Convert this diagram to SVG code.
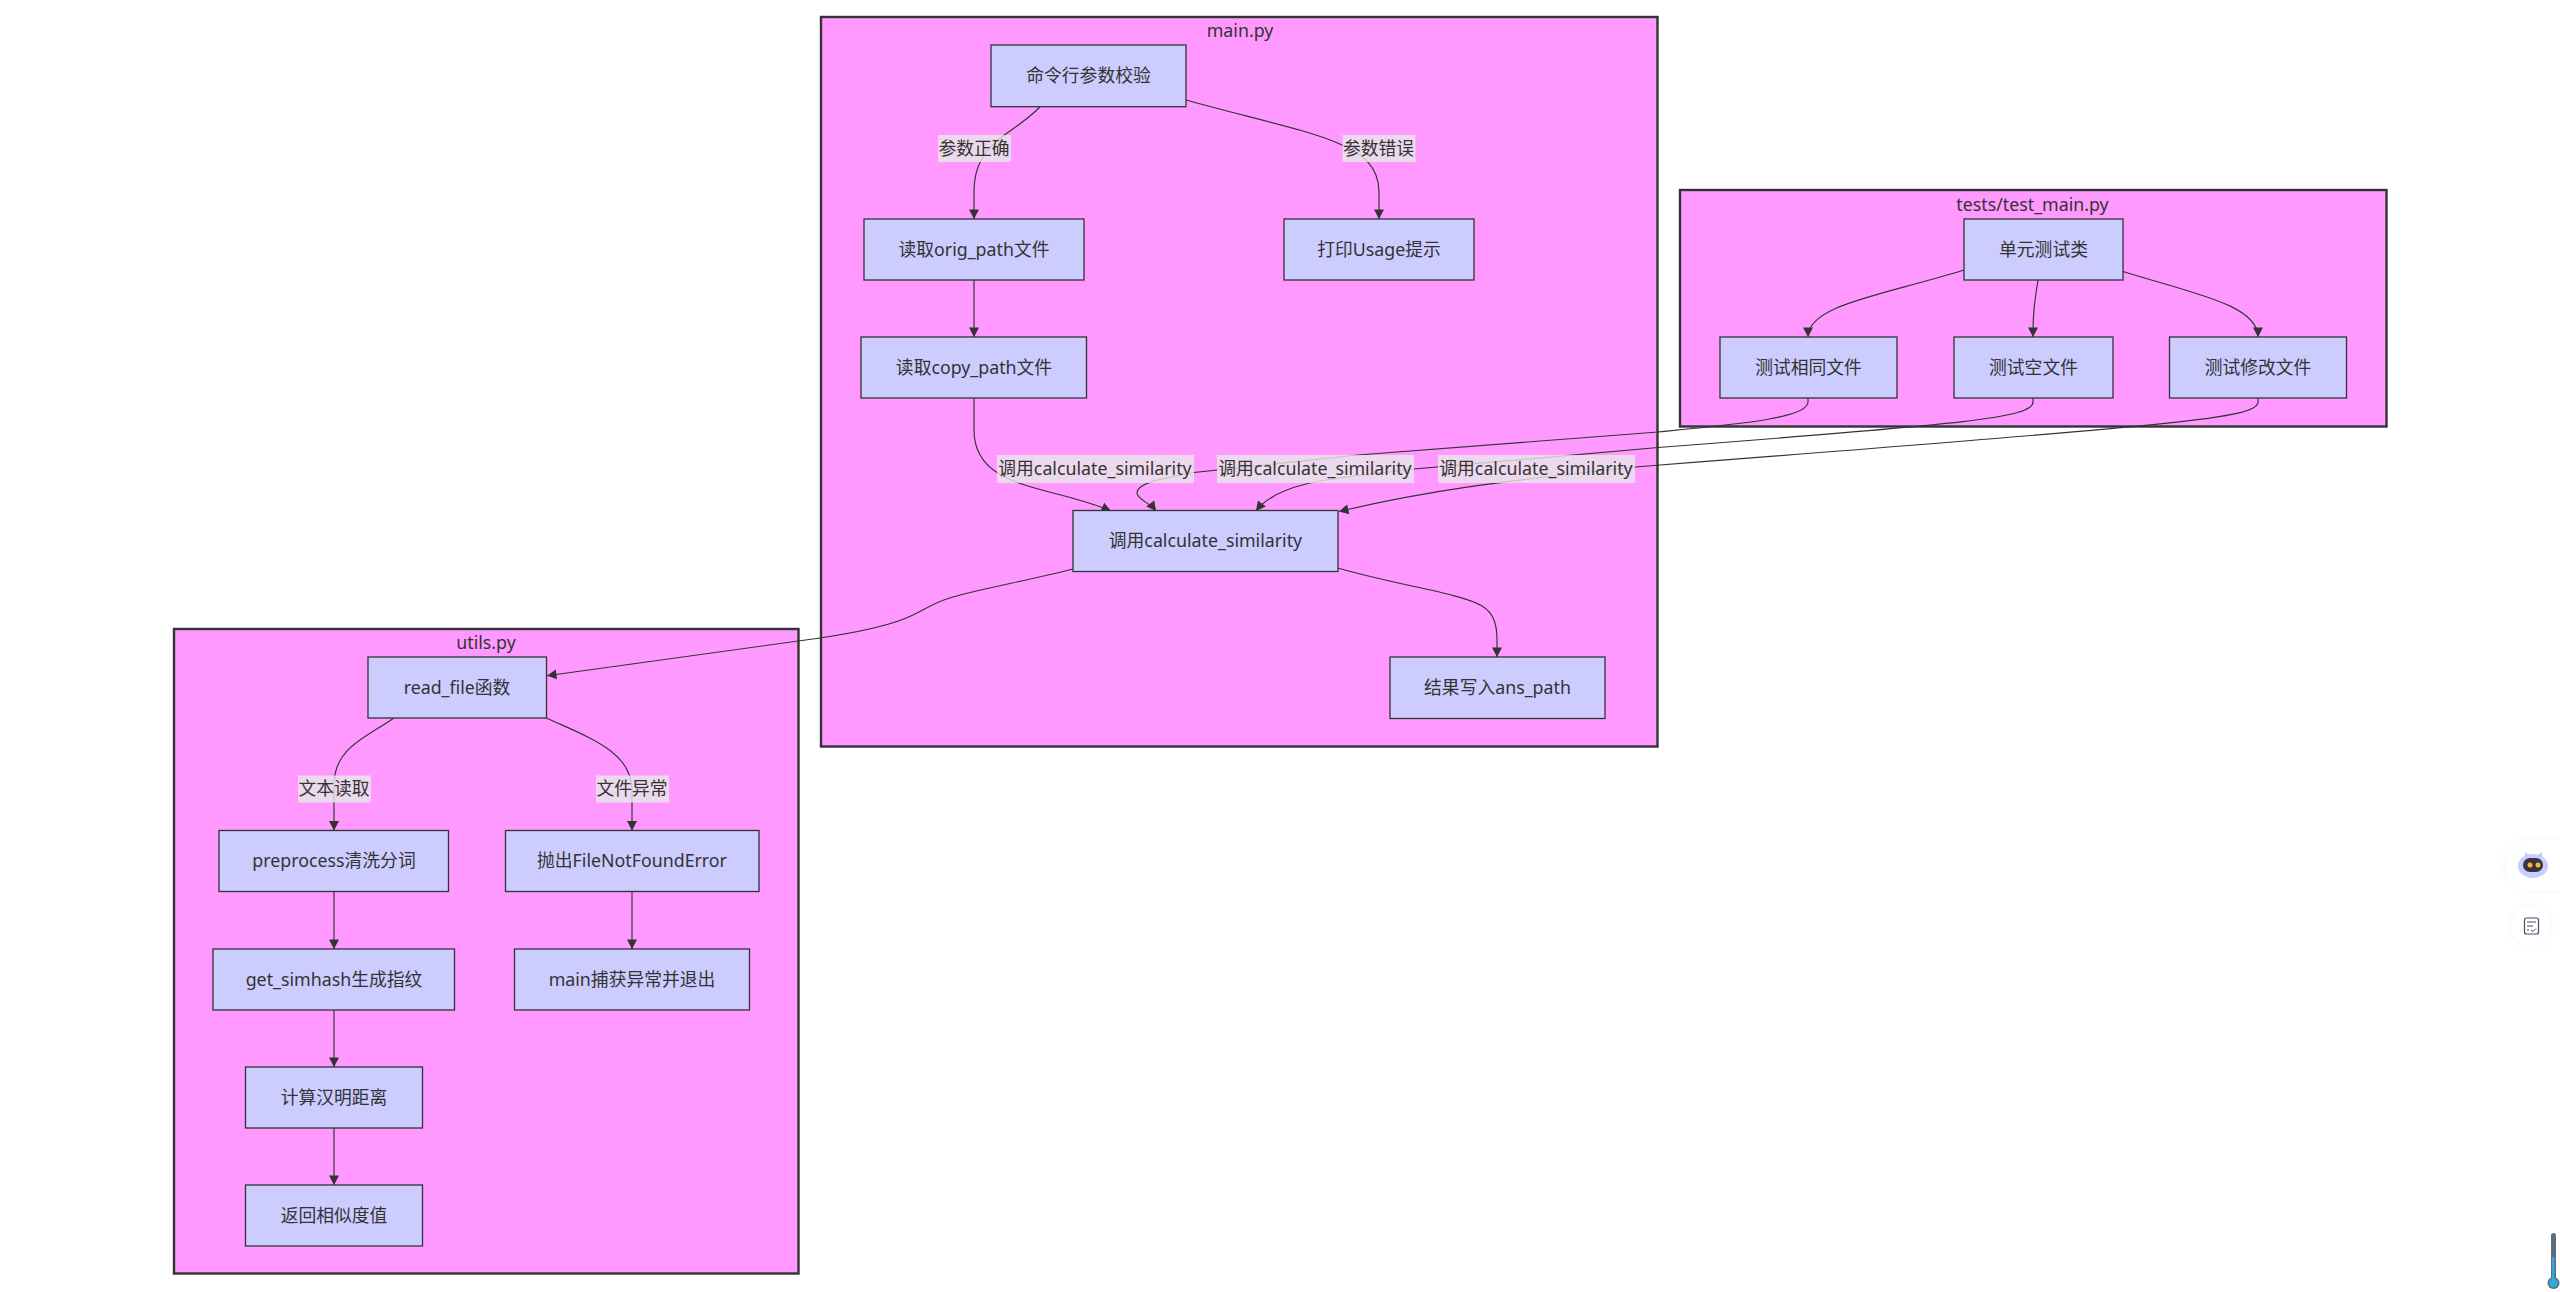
<svg xmlns="http://www.w3.org/2000/svg" width="2560" height="1292" viewBox="0 0 2560 1292">
<style>
text{font-family:"Noto Sans","Noto Sans CJK SC",sans-serif;font-size:17.8px;fill:#333;text-anchor:middle;dominant-baseline:central}
.cluster{fill:#f9f;stroke:#333;stroke-width:2.4}
.node rect{fill:#ccf;stroke:#333;stroke-width:1.3}
.edge{fill:none;stroke:#333;stroke-width:1.15;marker-end:url(#arrow)}
.lab rect{fill:#e8e8e8;fill-opacity:.8;stroke:none}
.tool{fill:#fff;filter:url(#soft)}
</style>
<defs>
<marker id="arrow" markerUnits="userSpaceOnUse" markerWidth="13" markerHeight="13" refX="10" refY="6" orient="auto"><path d="M0.5 1L10 6L0.5 11z" fill="#333"/></marker>
<filter id="soft" x="-30%" y="-30%" width="160%" height="160%"><feGaussianBlur in="SourceAlpha" stdDeviation="3"/><feColorMatrix values="0 0 0 0 0.6 0 0 0 0 0.6 0 0 0 0 0.7 0 0 0 0.2 0"/><feMerge><feMergeNode/><feMergeNode in="SourceGraphic"/></feMerge></filter>
</defs>
<rect width="2560" height="1292" fill="#fff"/>
<g id="clusters">
<g id="cluster-main"><rect class="cluster" x="821" y="17" width="836.500" height="729.500"/><text x="1240" y="30">main.py</text></g>
<g id="cluster-tests"><rect class="cluster" x="1680" y="190" width="706.500" height="236.500"/><text x="2032.500" y="203.500">tests/test_main.py</text></g>
<g id="cluster-utils"><rect class="cluster" x="174" y="629" width="624.500" height="644.500"/><text x="486" y="641.500">utils.py</text></g>
</g>
<g id="connectors">
<path class="edge" d="M1040 107C1025 122 1010 130 998 140C985 151 974 165 974 192V219"/>
<path class="edge" d="M1186 100C1250 118 1310 130 1342 145C1360 153 1379 165 1379 192V219"/>
<path class="edge" d="M974 280V337"/>
<path class="edge" d="M974 398V430C974 490 1050 485 1111 511"/>
<path class="edge" d="M1808 398V402C1808 418 1740 424 1658 432L1358 455L1194 472.500C1170 477 1137 482 1137 493C1137 499 1150 503 1156 511"/>
<path class="edge" d="M2033 398V402C2033 418 1965 424 1658 447.500L1414 469C1340 478 1280 480 1256 511"/>
<path class="edge" d="M2258 398V402C2258 418 2190 424 1660 465L1635 467C1540 478 1450 485 1339 511.500"/>
<path class="edge" d="M1964 270C1880 296 1808 305 1808 337"/>
<path class="edge" d="M2038 280C2034 305 2033 315 2033 337"/>
<path class="edge" d="M2123 271.500C2195 294 2258 305 2258 337"/>
<path class="edge" d="M1073 569C1030 580 985 588 953 597C935 602 925 609 913 615C895 624 860 632 820 638L547 675.700"/>
<path class="edge" d="M1338 568C1400 586 1460 593 1482 606C1494 613 1497 625 1497 640V657"/>
<path class="edge" d="M393.600 718.200C365 738 334 748 334 785V830.500"/>
<path class="edge" d="M547 718.200C590 738 632 752 632 790V830.500"/>
<path class="edge" d="M334 892V949"/>
<path class="edge" d="M334 1010V1067"/>
<path class="edge" d="M334 1128V1185"/>
<path class="edge" d="M632 892V949"/>
</g>
<g id="edge-labels">
<g class="lab"><rect x="938" y="135" width="73" height="27"/><text x="974" y="148">参数正确</text></g>
<g class="lab"><rect x="1342.500" y="135" width="73" height="27"/><text x="1378.500" y="148">参数错误</text></g>
<g class="lab"><rect x="997" y="455" width="197" height="28"/><text x="1095" y="468">调用calculate_similarity</text></g>
<g class="lab"><rect x="1217" y="455" width="197" height="28"/><text x="1315" y="468">调用calculate_similarity</text></g>
<g class="lab"><rect x="1438" y="455" width="197" height="28"/><text x="1536" y="468">调用calculate_similarity</text></g>
<g class="lab"><rect x="298" y="775.500" width="73" height="27"/><text x="334" y="788">文本读取</text></g>
<g class="lab"><rect x="596" y="775.500" width="73" height="27"/><text x="632" y="788">文件异常</text></g>
</g>
<g id="n-args" class="node"><rect x="991" y="45" width="195" height="61.700"/><text x="1088.500" y="75">命令行参数校验</text></g>
<g id="n-orig" class="node"><rect x="864" y="219" width="220" height="61"/><text x="974" y="248.500">读取orig_path文件</text></g>
<g id="n-usage" class="node"><rect x="1284" y="219" width="190" height="61"/><text x="1379" y="248.500">打印Usage提示</text></g>
<g id="n-copy" class="node"><rect x="861" y="337" width="225.500" height="61"/><text x="974" y="366.500">读取copy_path文件</text></g>
<g id="n-calc" class="node"><rect x="1073" y="510.500" width="265" height="61"/><text x="1205.500" y="540">调用calculate_similarity</text></g>
<g id="n-write" class="node"><rect x="1390" y="657" width="215" height="61.500"/><text x="1497.500" y="687">结果写入ans_path</text></g>
<g id="n-testclass" class="node"><rect x="1964" y="219" width="159" height="61"/><text x="2043.500" y="248.500">单元测试类</text></g>
<g id="n-same" class="node"><rect x="1720" y="337" width="177" height="61"/><text x="1808.500" y="366.500">测试相同文件</text></g>
<g id="n-empty" class="node"><rect x="1954" y="337" width="159" height="61"/><text x="2033.500" y="366.500">测试空文件</text></g>
<g id="n-modified" class="node"><rect x="2169.500" y="337" width="177" height="61"/><text x="2258" y="366.500">测试修改文件</text></g>
<g id="n-read" class="node"><rect x="368" y="657" width="178.500" height="61"/><text x="457" y="686.500">read_file函数</text></g>
<g id="n-pre" class="node"><rect x="219" y="830.500" width="229.500" height="61"/><text x="334" y="860">preprocess清洗分词</text></g>
<g id="n-raise" class="node"><rect x="505.500" y="830.500" width="253.500" height="61"/><text x="632" y="860">抛出FileNotFoundError</text></g>
<g id="n-simhash" class="node"><rect x="213" y="949" width="241.500" height="61"/><text x="334" y="978.500">get_simhash生成指纹</text></g>
<g id="n-catch" class="node"><rect x="514.500" y="949" width="235" height="61"/><text x="632" y="978.500">main捕获异常并退出</text></g>
<g id="n-hamming" class="node"><rect x="245.500" y="1067" width="177" height="61"/><text x="334" y="1096.500">计算汉明距离</text></g>
<g id="n-return" class="node"><rect x="245.500" y="1185" width="177" height="61"/><text x="334" y="1214.500">返回相似度值</text></g>
<g id="page-widgets">
<path class="tool" d="M2585 840H2530A25 25 0 0 0 2530 890H2585z"/>
<circle class="tool" cx="2531" cy="926" r="20"/>
<path d="M2525 852l5 4h7l5-4v8h-17z" fill="#b9c6fb"/>
<ellipse cx="2533" cy="866" rx="15" ry="12" fill="#c5cffb"/>
<rect x="2523" y="858" width="20" height="14" rx="7" fill="#3d3340"/>
<circle cx="2530" cy="865" r="2.500" fill="#f3b53c"/><circle cx="2538" cy="865" r="2.500" fill="#f3b53c"/>
<rect x="2524.500" y="918" width="14" height="16" rx="2" fill="none" stroke="#4a4a6a" stroke-width="1.200"/>
<path d="M2527 922h9M2527 926h6M2527 930h2M2531 930l2 1.500l3-3" fill="none" stroke="#4a4a6a" stroke-width="1"/>
<rect x="2551" y="1233" width="5" height="46" rx="2.500" fill="#5f6b75"/>
<circle cx="2553.500" cy="1283" r="6" fill="#5f6b75"/>
<rect x="2552" y="1257" width="2.500" height="24" fill="#2fa8e0"/>
<circle cx="2553.500" cy="1283" r="4.500" fill="#2fa8e0"/>
</g>
</svg>
